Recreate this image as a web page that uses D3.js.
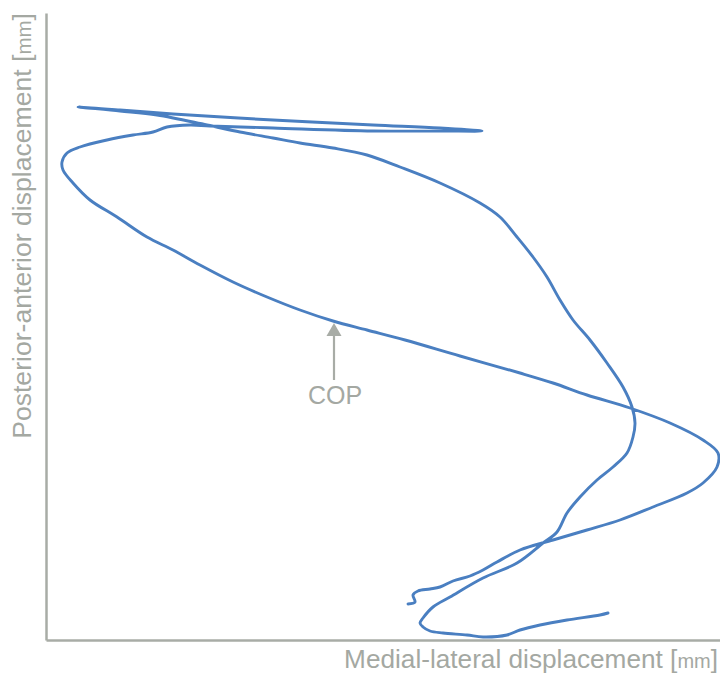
<!DOCTYPE html>
<html>
<head>
<meta charset="utf-8">
<script src="https://cdn.jsdelivr.net/npm/d3@7"></script>
<style>
  html, body { margin: 0; padding: 0; background: #ffffff; }
  svg { display: block; }
</style>
</head>
<body>
<svg id="chart" width="720" height="673"></svg>
<script>
// Centre-of-pressure trajectory (mm), in drawing order
const copX = [28.1,27.7,26.05,24.7,23.7,23.05,21.85,21.05,19.85,19.2,18.85,18.7,18.85,19.35,20.2,21.85,23.55,24.85,25.55,26.05,
  26.7,27.55,28.35,29.05,29.35,29.45,29.3,28.85,28.05,27.2,26.35,25.7,25.05,24.35,23.55,22.7,21.7,19.7,17.7,16.05,
  14.35,12.7,11.35,9.7,8.05,5.55,3.7,1.6,3.7,6.35,11.35,16.35,19.7,21.8,19.7,16.35,11.35,8.2,7.2,6.05,
  5.35,4.35,3.05,1.7,1.05,0.8,0.85,1.35,2.2,3.55,5.05,6.35,7.7,9.35,11.05,12.7,14.35,16.05,17.95,20.7,
  23.7,25.35,27.05,29.2,31.2,32.85,33.6,33.55,32.85,32.05,30.35,28.7,27.05,25.35,23.7,22.55,21.85,21.2,20.35,19.7,
  19.2,18.6,18.35,18.45,18.1];
const copY = [1.35,1.25,1.0,0.75,0.5,0.25,0.15,0.25,0.35,0.45,0.65,0.85,1.1,1.65,2.15,3.1,3.85,4.85,5.4,6.35,
  7.15,8.0,8.65,9.35,10.15,10.85,11.65,12.65,13.85,15.0,16.0,17.0,18.15,19.15,20.15,21.15,21.85,22.85,23.65,24.25,
  24.6,24.85,25.1,25.4,25.75,26.25,26.45,26.65,26.5,26.3,26.0,25.75,25.6,25.45,25.45,25.45,25.6,25.7,25.75,25.65,
  25.4,25.25,25.0,24.65,24.35,23.9,23.5,22.85,22.0,21.15,20.15,19.5,18.75,17.9,17.15,16.5,15.95,15.5,15.0,14.2,
  13.35,12.85,12.25,11.6,10.85,10.0,9.35,8.65,7.85,7.35,6.65,6.0,5.5,5.0,4.5,3.9,3.5,3.2,2.95,2.65,
  2.55,2.45,2.25,1.9,1.8];
const xDomain = [0, 33.7];
const yDomain = [0, 31.35];
const xLabel = "Medial-lateral displacement [";
const yLabel = "Posterior-anterior displacement [";
const unitLabel = "mm";
const annotationText = "COP";
const annotationPoint = [14.4, 15.85]; // mm

const svg = d3.select("#chart");
const W = 720, H = 673;
const margin = { left: 46, right: 0, top: 13, bottom: 33 };
const axisColor = "#a8aca6";
const textColor = "#a4a8a2";
const lineColor = "#4a7fc1";

const x = d3.scaleLinear().domain(xDomain).range([margin.left, W - margin.right]);
const y = d3.scaleLinear().domain(yDomain).range([H - margin.bottom, margin.top]);

// axes (no ticks)
const gx = svg.append("g").attr("transform", `translate(0,${y(0)})`)
  .call(d3.axisBottom(x).tickValues([]).tickSizeOuter(0));
const gy = svg.append("g").attr("transform", `translate(${x(0)},0)`)
  .call(d3.axisLeft(y).tickValues([]).tickSizeOuter(0));
[gx, gy].forEach(g => g.select(".domain").attr("stroke", axisColor).attr("stroke-width", 2.5));

// trajectory
const pts = copX.map((v, i) => [v, copY[i]]);
svg.append("path")
  .datum(pts)
  .attr("fill", "none")
  .attr("stroke", lineColor)
  .attr("stroke-width", 2.9)
  .attr("stroke-linejoin", "round")
  .attr("stroke-linecap", "round")
  .attr("d", d3.line().x(d => x(d[0])).y(d => y(d[1])).curve(d3.curveCatmullRom.alpha(0.5)));

// axis labels
const font = "'Liberation Sans', Arial, Helvetica, sans-serif";
const xl = svg.append("text")
  .attr("x", W - 2).attr("y", H - 5)
  .attr("text-anchor", "end")
  .attr("fill", textColor)
  .style("font-family", font).style("font-size", "26.2px");
xl.append("tspan").text(xLabel);
xl.append("tspan").style("font-size", "20px").text(unitLabel);
xl.append("tspan").text("]");

const yl = svg.append("text")
  .attr("transform", `translate(31,${margin.top}) rotate(-90)`)
  .attr("text-anchor", "end")
  .attr("fill", textColor)
  .style("font-family", font).style("font-size", "26.6px");
yl.append("tspan").text(yLabel);
yl.append("tspan").style("font-size", "20.5px").text(unitLabel);
yl.append("tspan").text("]");

// COP annotation arrow
const ax = x(annotationPoint[0]);
const ay = y(annotationPoint[1]);
const ann = svg.append("g");
ann.append("line")
  .attr("x1", ax).attr("x2", ax)
  .attr("y1", ay + 10).attr("y2", ay + 57)
  .attr("stroke", axisColor).attr("stroke-width", 2.2);
ann.append("path")
  .attr("d", `M${ax},${ay} L${ax + 7.5},${ay + 13} L${ax - 7.5},${ay + 13} Z`)
  .attr("fill", axisColor);
ann.append("text")
  .attr("x", ax + 1).attr("y", ay + 81)
  .attr("text-anchor", "middle")
  .attr("fill", textColor)
  .style("font-family", font).style("font-size", "25px")
  .text(annotationText);
</script>
</body>
</html>
